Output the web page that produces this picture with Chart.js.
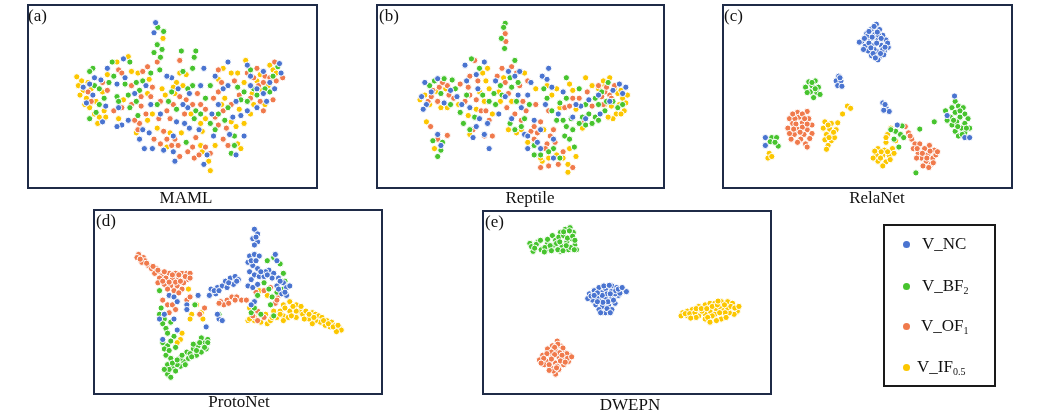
<!DOCTYPE html>
<html>
<head>
<meta charset="utf-8">
<script src="https://cdn.jsdelivr.net/npm/chart.js@4.4.0/dist/chart.umd.min.js"></script>
<style>
  body { margin: 0; background: #fff; width: 1039px; height: 415px; position: relative; overflow: hidden;
         font-family: "Liberation Serif", "Times New Roman", serif; color: #111; }
  .box { position: absolute; box-sizing: border-box; border: 2px solid #1f2b47; background: #fff; }
  .box canvas { position: absolute; left: 0; top: 0; }
  .tag { position: absolute; font-size: 17px; line-height: 20px; }
  .name { position: absolute; font-size: 17px; line-height: 20px; text-align: center; width: 120px; }
  .legend { position: absolute; left: 883px; top: 224px; width: 113px; height: 163px; box-sizing: border-box;
            border: 2px solid #1a1a1a; }
  .lg { position: absolute; font-size: 17px; line-height: 20px; white-space: nowrap; }
  .lg sub { font-size: 10px; vertical-align: -3px; }
  .dot { position: absolute; width: 7px; height: 7px; border-radius: 50%; }
</style>
</head>
<body>

<div class="box" id="boxA" style="left:27px;top:4px;width:291px;height:185px"><canvas id="cA"></canvas></div>
<div class="box" id="boxB" style="left:376px;top:4px;width:289px;height:185px"><canvas id="cB"></canvas></div>
<div class="box" id="boxC" style="left:722px;top:4px;width:291px;height:185px"><canvas id="cC"></canvas></div>
<div class="box" id="boxD" style="left:93px;top:209px;width:290px;height:186px"><canvas id="cD"></canvas></div>
<div class="box" id="boxE" style="left:482px;top:210px;width:290px;height:185px"><canvas id="cE"></canvas></div>

<div class="tag" style="left:28px;top:6px">(a)</div>
<div class="tag" style="left:379px;top:6px">(b)</div>
<div class="tag" style="left:724px;top:6px">(c)</div>
<div class="tag" style="left:96px;top:211px">(d)</div>
<div class="tag" style="left:485px;top:212px">(e)</div>

<div class="name" style="left:126px;top:188px">MAML</div>
<div class="name" style="left:470px;top:188px">Reptile</div>
<div class="name" style="left:817px;top:188px">RelaNet</div>
<div class="name" style="left:179px;top:392px">ProtoNet</div>
<div class="name" style="left:570px;top:395px">DWEPN</div>

<div class="legend"></div>
<div class="dot" style="left:903px;top:241px;background:#4a74d0"></div>
<div class="lg" style="left:922px;top:234px">V_NC</div>
<div class="dot" style="left:903px;top:283px;background:#47c42e"></div>
<div class="lg" style="left:922px;top:276px">V_BF<sub>2</sub></div>
<div class="dot" style="left:903px;top:323px;background:#f07a4c"></div>
<div class="lg" style="left:921px;top:316px">V_OF<sub>1</sub></div>
<div class="dot" style="left:903px;top:364px;background:#fcc700"></div>
<div class="lg" style="left:917px;top:357px">V_IF<sub>0.5</sub></div>

<script>
// classes
const classes = ['V_NC', 'V_BF2', 'V_OF1', 'V_IF0.5'];
const colors = ['#4a74d0', '#47c42e', '#f07a4c', '#fcc700'];

// (a) MAML embedding
const aNC = [[305,155],[255,185],[285,235],[300,365],[285,370],[320,350],[200,235],[235,222],[190,295],[210,270],[240,355],[180,245],[375,240],[365,380],[355,410],[385,390],[370,440],[395,440],[400,72],[405,40],[455,215],[440,210],[470,355],[460,400],[460,450],[465,480],[495,360],[555,185],[545,240],[510,265],[505,310],[510,375],[555,490],[585,400],[580,330],[590,210],[630,165],[630,240],[655,290],[670,335],[635,395],[680,400],[655,460],[690,175],[700,240],[740,195],[790,170],[775,250],[740,265],[720,310],[795,200],
  [215,215],[250,305],[310,215],[340,265],[390,300],[420,330],[430,445],[490,300],[540,380],[565,460],[600,300],[615,250],[645,340],[700,210],[720,250],[760,230],[750,290],[690,320],[290,310],[475,250]];
const aBF = [[210,185],[215,240],[230,250],[245,280],[220,325],[200,195],[270,165],[325,165],[275,210],[310,235],[285,275],[290,290],[325,310],[345,230],[355,255],[345,290],[350,335],[412,55],[430,68],[410,110],[425,125],[400,135],[420,150],[418,190],[485,130],[490,195],[445,290],[470,315],[530,130],[525,150],[520,185],[520,240],[530,320],[525,345],[575,360],[575,240],[660,245],[670,285],[620,350],[650,400],[640,455],[700,190],[785,180],[760,260],[720,270],[690,290],
  [230,300],[260,230],[320,270],[365,225],[390,200],[455,260],[505,250],[545,330],[560,280],[600,330],[630,310],[680,260],[710,250],[745,250],[770,210],[650,430],[590,380],[410,300],[500,420],[200,345]];
const aOF = [[240,230],[195,260],[205,290],[290,190],[300,200],[275,320],[300,310],[330,300],[365,195],[380,180],[360,275],[395,245],[360,305],[375,330],[355,360],[350,380],[400,410],[415,345],[410,165],[480,160],[480,275],[460,300],[450,345],[430,385],[440,410],[465,410],[420,425],[475,430],[480,465],[535,265],[520,300],[545,300],[530,405],[520,435],[560,435],[575,455],[525,470],[585,280],[600,190],[610,230],[650,225],[600,260],[640,300],[615,320],[600,365],[630,430],[720,185],[710,215],[725,240],[745,210],[775,165],[760,215],[780,225],[730,290],[740,320],[800,215],
  [255,255],[330,240],[340,350],[390,275],[420,290],[440,320],[495,330],[500,285],[560,315],[590,340],[625,375],[665,270],[690,200],[700,280],[770,285],[740,230],[455,430],[505,450],[540,460],[615,410]];
const aIF = [[160,212],[175,225],[165,240],[180,255],[170,270],[190,280],[185,300],[200,310],[220,290],[215,330],[230,340],[245,320],[225,360],[240,260],[205,250],[285,165],[320,148],[330,195],[290,345],[350,200],[385,220],[380,265],[380,350],[410,375],[428,90],[470,230],[460,245],[490,240],[435,270],[450,390],[440,435],[500,205],[545,360],[560,345],[550,385],[545,430],[550,450],[570,480],[575,510],[615,185],[660,200],[680,230],[640,200],[620,280],[640,355],[680,360],[660,425],[670,440],[685,160],[730,205],[760,175],[770,190],[755,240],[745,300],[705,265],[710,300],
  [195,230],[255,205],[305,285],[345,390],[395,330],[425,250],[465,265],[485,390],[515,330],[600,220],[655,370],[665,315],[700,330],[735,255],[780,200],[720,225],[610,300],[590,430],[480,200],[250,340]];

// (b) Reptile embedding
const bNC = [[160,230],[200,218],[150,275],[165,300],[155,315],[220,295],[200,395],[210,430],[285,175],[345,165],[320,205],[290,225],[300,310],[330,345],[310,405],[345,395],[355,360],[260,275],[420,195],[455,195],[440,210],[450,270],[460,310],[470,395],[430,345],[490,230],[545,185],[525,210],[540,220],[555,245],[480,400],[510,420],[520,440],[535,300],[560,410],[360,440],[620,340],[645,305],[670,285],[765,235],[785,245],[735,290],[705,330],
  [180,260],[240,255],[275,300],[320,370],[390,330],[410,275],[480,270],[500,350],[520,380],[575,330],[590,260],[630,300],[660,345],[700,270],[745,255],[775,265],[560,470],[480,440],[325,250],[380,225]];
const bBF = [[410,42],[405,55],[398,90],[408,122],[175,240],[220,218],[245,222],[210,265],[240,300],[185,415],[210,445],[200,465],[215,420],[305,155],[330,185],[280,360],[300,380],[290,270],[375,265],[380,300],[360,290],[440,160],[425,215],[430,245],[400,270],[445,290],[470,345],[460,370],[425,360],[500,430],[530,250],[580,295],[570,350],[560,440],[600,280],[600,370],[595,400],[610,410],[580,470],[500,460],[600,215],[640,250],[660,300],[670,330],[690,340],[650,340],[640,360],[615,345],[680,360],[700,350],[730,230],[710,260],[745,290],[760,310],[720,320],[700,300],
  [190,225],[255,250],[270,325],[315,340],[340,270],[395,240],[450,230],[485,300],[540,280],[555,320],[590,350],[620,380],[660,365],[690,280],[725,290],[775,300],[520,460],[545,450],[625,435],[440,380]];
const bOF = [[410,75],[412,100],[185,255],[205,245],[230,240],[170,290],[200,290],[235,270],[180,275],[178,370],[200,410],[230,398],[315,160],[300,210],[270,235],[325,225],[335,320],[350,320],[320,285],[345,400],[370,400],[295,245],[400,185],[430,180],[410,230],[420,265],[415,310],[440,330],[455,240],[480,225],[475,320],[490,385],[510,390],[520,355],[545,320],[550,400],[560,380],[500,410],[540,425],[520,500],[545,495],[575,490],[590,450],[640,280],[665,260],[680,305],[620,280],[655,355],[720,260],[735,270],[710,275],[715,300],[750,240],
  [215,230],[250,280],[285,290],[310,380],[360,350],[385,210],[445,200],[465,290],[505,300],[535,440],[565,420],[595,310],[610,305],[700,240],[725,245],[740,280],[620,500],[500,370],[300,270],[460,350]];
const bIF = [[145,285],[195,258],[160,270],[225,250],[230,310],[165,355],[190,440],[355,185],[340,200],[330,260],[295,335],[300,395],[370,330],[360,250],[350,225],[390,260],[395,290],[430,290],[420,380],[445,390],[540,240],[570,250],[460,380],[530,380],[545,470],[525,480],[590,470],[605,515],[605,490],[630,465],[660,215],[610,235],[680,240],[630,315],[650,375],[735,215],[720,240],[750,250],[760,265],[775,280],[785,295],[765,300],[740,305],[780,320],[755,330],[745,345],[730,340],[770,255],
  [175,300],[210,310],[265,300],[320,315],[345,290],[405,215],[470,200],[505,250],[555,270],[580,310],[620,255],[700,250],[715,225],[790,270],[770,330],[720,300],[610,440],[480,420],[520,470],[570,460]];

// (c) RelaNet embedding
const cNC = [[485,45],[470,60],[495,62],[455,75],[480,78],[505,80],[440,100],[465,95],[490,95],[515,95],[450,115],[475,112],[500,112],[522,118],[460,130],[485,130],[510,130],[470,145],[495,148],[490,158],[432,102],[458,82],[508,142],[478,125],[492,80],
  [478,52],[462,68],[488,70],[472,86],[448,90],[500,90],[520,105],[462,105],[486,105],[505,125],[468,120],[445,125],[475,138],[498,138],[482,152],[512,118],
  [368,210],[360,225],[375,225],[365,240],[378,242],[372,215],[505,295],[515,310],[525,322],[508,318],[512,300],[140,405],[140,430],[550,365],[728,273],[705,335],[760,405],[775,405]];
const cBF = [[275,228],[295,225],[265,245],[285,240],[305,245],[280,260],[300,262],[290,278],[270,262],[310,268],[285,230],[295,250],[160,405],[175,405],[180,432],[155,418],[170,420],[565,368],[545,385],[560,395],[540,410],[570,405],[555,435],[530,380],[620,378],[665,355],[608,517],
  [730,290],[740,305],[720,310],[755,310],[700,320],[730,325],[760,330],[715,340],[745,340],[770,345],[735,355],[760,360],[720,365],[750,375],[775,375],[730,385],[760,390],[740,400],[705,350],[745,320],[725,350],[765,375],[738,370],[752,395]];
const cOF = [[240,325],[270,322],[215,345],[245,340],[275,345],[225,360],[255,358],[285,365],[210,375],[240,378],[270,380],[230,395],[260,395],[285,392],[220,410],[250,410],[240,420],[265,425],[270,435],[215,392],[255,372],[232,345],[225,330],[255,330],[262,345],[235,362],[270,362],[248,388],[228,378],[278,408],
  [575,370],[585,390],[595,410],[605,425],[600,440],[615,455],[625,470],[640,480],[655,490],[660,470],[665,445],[650,430],[635,440],[620,425],[645,460],[630,495],[670,460],[610,470],[590,400],[612,440],[628,455],[652,448],[642,470],[662,485],[675,450],[648,500]];
const cIF = [[395,305],[405,312],[380,330],[365,358],[325,355],[345,360],[320,375],[340,378],[360,380],[330,395],[350,398],[325,412],[345,415],[335,430],[330,442],[355,405],[335,365],[352,388],[338,405],[152,455],[148,470],[160,465],
  [530,375],[520,395],[515,420],[545,415],[490,440],[510,445],[535,440],[485,460],[505,462],[525,462],[490,480],[515,482],[505,495],[475,470],[540,455],[500,450],[520,450],[498,470],[528,475],[480,448],[515,405]];

// (d) ProtoNet embedding
const dNC = [[245,270],[260,275],[270,290],[230,330],[215,345],[260,345],[300,300],[300,315],[335,270],[360,370],[225,410],[270,380],[375,250],[395,245],[410,240],[420,225],[435,215],[450,210],[460,220],[445,235],[425,245],[390,265],[370,270],[400,345],[410,350],[395,330],[385,255],[400,255],[430,230],[455,225],
  [510,60],[520,75],[505,90],[520,100],[510,110],[515,85],[495,145],[510,140],[525,145],[490,165],[505,175],[520,185],[495,195],[510,205],[525,210],[500,220],[490,240],[505,245],[520,235],[540,210],[555,190],[570,200],[575,140],[580,160],[565,215],[585,215],[600,230],[610,245],[620,240],[595,265],[610,270],[580,240],[510,290],[500,300],[545,195],[500,160],[515,160],[530,195],[550,205],[590,225],[605,260],[585,250]];
const dBF = [[215,255],[220,310],[215,330],[230,345],[225,360],[235,375],[250,355],[240,390],[260,400],[225,420],[240,430],[250,415],[265,435],[235,460],[250,470],[240,490],[255,500],[240,520],[265,510],[280,495],[290,480],[305,470],[300,450],[320,440],[330,460],[345,450],[360,440],[365,410],[350,420],[335,430],[345,405],[320,425],[310,455],[280,470],[270,490],[365,420],[325,300],[400,330],
  [245,505],[255,485],[270,475],[285,460],[295,490],[315,465],[330,445],[340,420],[355,435],[230,440],[245,445],[230,505],[250,530],
  [570,150],[550,160],[590,170],[600,200],[605,225],[540,230],[555,250],[600,250],[520,270],[565,275],[580,260],[560,300],[500,325],[530,330],[570,335],[510,310]];
const dOF = [[150,140],[165,150],[145,150],[170,160],[160,165],[180,175],[190,185],[205,185],[215,195],[200,200],[225,205],[245,200],[265,200],[285,200],[300,200],[310,200],[215,215],[235,215],[255,215],[275,215],[300,220],[210,230],[230,235],[250,240],[270,240],[290,230],[285,250],[225,285],[240,300],[255,300],[300,285],[310,275],[340,330],[355,310],[265,315],[245,325],
  [155,155],[175,168],[195,178],[210,190],[230,195],[255,205],[275,205],[295,210],[310,215],[225,225],[245,228],[265,228],[280,225],[240,250],[260,255],[275,262],
  [405,290],[425,285],[440,275],[455,275],[470,285],[415,300],[400,295],[485,285],[430,295],[450,285],[515,260],[540,255],[560,245],[585,270],[575,295],[520,320],[540,340],[520,350],[580,285],[505,335]];
const dIF = [[305,250],[330,300],[315,330],[310,345],[345,325],[350,345],[285,390],[280,410],[270,420],[525,255],[550,270],[495,310],[510,350],[490,350],[530,355],[550,360],[545,330],[570,320],[590,320],[600,300],[620,290],[640,300],[650,320],[660,330],[670,320],[690,325],[700,330],[710,335],[720,340],[735,350],[750,355],[760,365],[775,375],[780,380],[765,385],[745,370],[730,365],[715,355],[700,350],[680,345],[665,345],[640,320],[620,320],[600,335],[615,340],[580,340],[560,350],[690,360],
  [605,310],[630,305],[655,305],[680,330],[695,340],[725,350],[740,360],[755,370],[770,365],[640,340],[625,335],[590,330],[565,340],[510,340],[495,345],[600,350]];

// (e) DWEPN embedding
const eNC = [[330,265],[345,255],[360,245],[380,250],[400,240],[415,245],[430,255],[445,258],[420,270],[400,275],[380,280],[360,285],[340,285],[350,300],[370,305],[390,300],[410,295],[400,315],[380,325],[360,315],[410,265],[325,280],
  [335,272],[352,268],[368,262],[385,265],[398,258],[412,255],[425,263],[355,275],[370,270],[388,290],[405,285],[372,292],[355,290],[365,325],[385,312],[395,325],[420,250],[432,245],[355,262],[395,265],[345,270],[375,240],[392,238]];
const eBF = [[145,105],[155,130],[170,100],[185,120],[200,105],[215,80],[225,95],[240,70],[255,60],[270,55],[280,70],[275,90],[260,100],[245,115],[285,110],[290,125],[265,125],[240,130],[205,125],[180,125],[150,115],[235,85],[250,80],[220,110],
  [165,108],[178,95],[192,118],[208,112],[212,128],[228,105],[232,125],[238,100],[250,68],[262,88],[268,65],[278,82],[285,95],[272,118],[258,112],[248,128],[283,125],[200,92],[160,120],[190,132]];
const eOF = [[230,415],[215,430],[240,430],[200,440],[225,445],[250,445],[270,460],[185,460],[210,462],[235,465],[255,470],[175,475],[200,480],[225,485],[250,490],[210,500],[235,505],[225,520],[190,490],[265,480],
  [232,425],[222,435],[248,437],[212,450],[238,452],[260,455],[198,455],[222,458],[245,460],[188,470],[212,472],[240,478],[262,470],[180,485],[205,490],[230,495],[255,482],[218,510],[228,500],[205,508],[275,465]];
const eIF = [[620,325],[635,320],[650,315],[670,305],[690,300],[705,295],[720,295],[740,290],[760,290],[775,295],[790,320],[780,330],[765,325],[745,315],[725,315],[705,320],[690,330],[670,335],[650,335],[635,335],[690,345],[740,345],[720,330],[760,310],[615,335],[680,320],[735,305],
  [628,328],[642,328],[658,325],[662,312],[678,312],[695,312],[712,305],[728,300],[750,300],[770,305],[782,310],[795,305],[752,325],[735,325],[712,335],[698,340],[662,340],[645,342],[705,355],[725,350],[755,340],[730,288]];

function toPts(arr) { return arr.map(p => ({ x: p[0], y: p[1] })); }

function makePanel(id, boxId, groups, xr, yr) {
    const box = document.getElementById(boxId);
    const cv = document.getElementById(id);
    cv.width = box.clientWidth;
    cv.height = box.clientHeight;
    new Chart(cv, {
        type: 'scatter',
        data: {
            datasets: groups.map((g, i) => ({
                label: classes[i],
                data: toPts(g),
                backgroundColor: colors[i],
                borderColor: '#ffffff',
                borderWidth: 1,
                pointRadius: 3.1
            }))
        },
        options: {
            responsive: false,
            animation: false,
            layout: { padding: 0 },
            plugins: { legend: { display: false }, tooltip: { enabled: false } },
            scales: {
                x: { type: 'linear', display: false, min: xr[0], max: xr[1] },
                y: { type: 'linear', display: false, min: yr[0], max: yr[1], reverse: true }
            }
        }
    });
}

makePanel('cA', 'boxA', [aNC, aBF, aOF, aIF], [27, 888], [3, 546]);
makePanel('cB', 'boxB', [bNC, bBF, bOF, bIF], [30, 885], [3, 546]);
makePanel('cC', 'boxC', [cNC, cBF, cOF, cIF], [27, 888], [3, 546]);
makePanel('cD', 'boxD', [dNC, dBF, dOF, dIF], [30, 888], [18, 564]);
makePanel('cE', 'boxE', [eNC, eBF, eOF, eIF], [18, 876], [21, 564]);
</script>
</body>
</html>
